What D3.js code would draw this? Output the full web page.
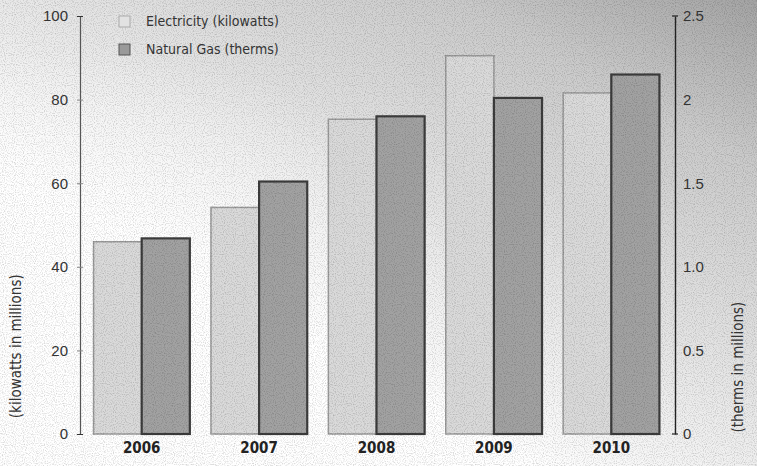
<!DOCTYPE html>
<html>
<head>
<meta charset="utf-8">
<script src="https://cdn.jsdelivr.net/npm/d3@7"></script>
<style>
  body { margin: 0; background: #fff; }
  svg { display: block; font-family: "Liberation Sans Narrow", "DejaVu Sans Condensed", "Roboto Condensed", sans-serif; }
</style>
</head>
<body>
<div id="chart"></div>
<script>
// data
const years = ['2006', '2007', '2008', '2009', '2010']
const electricity = [46, 54.2, 75.3, 90.5, 81.6]      // kilowatts in millions
const naturalGas = [1.17, 1.51, 1.90, 2.01, 2.15]     // therms in millions
const leftTicks = [0, 20, 40, 60, 80, 100]
const rightTicks = [0, 0.5, 1, 1.5, 2, 2.5]
const rightTickLabels = ['0', '0.5', '1.0', '1.5', '2', '2.5']
const seriesNames = ['Electricity (kilowatts)', 'Natural Gas (therms)']

const W = 757, H = 466
const margin = { top: 16, right: 83, bottom: 32, left: 80 }

const svg = d3.select('#chart')
  .append('svg')
  .attr('width', W)
  .attr('height', H)

const defs = svg.append('defs')

// textured grey background, darker toward the upper right
const bg = defs.append('linearGradient')
  .attr('id', 'bgGrad')
  .attr('x1', '0.1').attr('y1', '1')
  .attr('x2', '1').attr('y2', '0')
bg.append('stop').attr('offset', '0.3').attr('stop-color', '#ffffff')
bg.append('stop').attr('offset', '0.55').attr('stop-color', '#e4e4e4')
bg.append('stop').attr('offset', '0.8').attr('stop-color', '#cbcbcb')
bg.append('stop').attr('offset', '1').attr('stop-color', '#a4a4a4')

const grain = defs.append('filter').attr('id', 'grain')
grain.append('feTurbulence')
  .attr('type', 'fractalNoise')
  .attr('baseFrequency', 0.9)
  .attr('numOctaves', 1)
  .attr('seed', 3)
grain.append('feColorMatrix')
  .attr('type', 'matrix')
  .attr('values', '0 0 0 0 0  0 0 0 0 0  0 0 0 0 0  0 0 0 -2.2 1.2')
grain.append('feComposite').attr('in2', 'SourceGraphic').attr('operator', 'in')

svg.append('rect')
  .attr('width', W).attr('height', H)
  .attr('fill', 'url(#bgGrad)')

// lower-left fade so the white area stays clean
const fade = defs.append('radialGradient')
  .attr('id', 'fadeGrad')
  .attr('cx', '0.1').attr('cy', '0.6').attr('r', '0.5')
fade.append('stop').attr('offset', '0').attr('stop-color', '#fff').attr('stop-opacity', 1)
fade.append('stop').attr('offset', '1').attr('stop-color', '#fff').attr('stop-opacity', 0)
svg.append('rect')
  .attr('width', W).attr('height', H)
  .attr('fill', 'url(#fadeGrad)')

const barFill = {
  elec: { fill: '#dadada', stroke: '#9a9a9a', sw: 1.5 },
  gas: { fill: '#a2a2a2', stroke: '#3c3c3c', sw: 2.2 }
}

const x = d3.scaleBand()
  .domain(years)
  .range([margin.left + 3, W - margin.right - 4])
  .paddingInner(0.18)
  .paddingOuter(0.09)

const xs = d3.scaleBand()
  .domain(['elec', 'gas'])
  .range([0, x.bandwidth()])

const yL = d3.scaleLinear().domain([0, 100]).range([H - margin.bottom, margin.top])
const yR = d3.scaleLinear().domain([0, 2.5]).range([H - margin.bottom, margin.top])

const rows = years.map((yr, i) => ({ year: yr, elec: electricity[i], gas: naturalGas[i] }))

const groups = svg.append('g')
  .selectAll('g')
  .data(rows)
  .join('g')
  .attr('transform', d => `translate(${x(d.year)},0)`)

groups.append('rect')
  .attr('x', xs('elec'))
  .attr('y', d => yL(d.elec))
  .attr('width', xs.bandwidth())
  .attr('height', d => yL(0) - yL(d.elec))
  .attr('fill', barFill.elec.fill)
  .attr('stroke', barFill.elec.stroke)
  .attr('stroke-width', barFill.elec.sw)

groups.append('rect')
  .attr('x', xs('gas'))
  .attr('y', d => yR(d.gas))
  .attr('width', xs.bandwidth())
  .attr('height', d => yR(0) - yR(d.gas))
  .attr('fill', barFill.gas.fill)
  .attr('stroke', barFill.gas.stroke)
  .attr('stroke-width', barFill.gas.sw)

// grain over everything drawn so far
svg.append('rect')
  .attr('width', W).attr('height', H)
  .attr('fill', '#666')
  .attr('opacity', 0.22)
  .attr('filter', 'url(#grain)')

// left axis
const leftAxis = svg.append('g')
  .attr('transform', `translate(${margin.left},0)`)
  .call(d3.axisLeft(yL).tickValues(leftTicks).tickSize(3).tickSizeOuter(0).tickPadding(9))
leftAxis.select('.domain').attr('stroke', '#555').attr('stroke-width', 1.2)
leftAxis.selectAll('.tick line').attr('stroke', '#888').attr('x2', 3).attr('x1', -3)
leftAxis.selectAll('.tick text')
  .attr('font-size', 15)
  .attr('fill', '#333')
  .attr('font-family', 'inherit')

// right axis
const rightAxis = svg.append('g')
  .attr('transform', `translate(${W - margin.right + 1},0)`)
  .call(d3.axisRight(yR).tickValues(rightTicks)
    .tickFormat((d, i) => rightTickLabels[i])
    .tickSize(0).tickSizeOuter(0).tickPadding(8))
rightAxis.select('.domain').attr('stroke', '#222').attr('stroke-width', 1.4)
rightAxis.selectAll('.tick text')
  .attr('font-size', 15)
  .attr('fill', '#333')
  .attr('font-family', 'inherit')
// end caps on the right axis
rightAxis.selectAll('.cap')
  .data(yR.domain())
  .join('line')
  .attr('class', 'cap')
  .attr('x1', -3).attr('x2', 3)
  .attr('y1', d => yR(d)).attr('y2', d => yR(d))
  .attr('stroke', '#222')
  .attr('stroke-width', 1.2)
leftAxis.selectAll('.tick')
  .filter(d => d === 0 || d === 100)
  .select('line')
  .attr('stroke', '#333')

// year labels
svg.append('g')
  .selectAll('text')
  .data(years)
  .join('text')
  .attr('x', d => x(d) + x.bandwidth() / 2)
  .attr('y', H - 13)
  .attr('text-anchor', 'middle')
  .attr('font-size', 15)
  .attr('font-weight', 'bold')
  .attr('fill', '#222')
  .text(d => d)

// axis titles
svg.append('text')
  .attr('transform', `translate(21,${yL(21)}) rotate(-90)`)
  .attr('text-anchor', 'middle')
  .attr('font-size', 15)
  .attr('fill', '#333')
  .text('(kilowatts in millions)')

svg.append('text')
  .attr('transform', `translate(${W - 14},${yR(0.4)}) rotate(-90)`)
  .attr('text-anchor', 'middle')
  .attr('font-size', 15)
  .attr('fill', '#333')
  .text('(therms in millions)')

// legend
const legend = svg.append('g')
  .attr('transform', 'translate(119,16)')
  .selectAll('g')
  .data(seriesNames)
  .join('g')
  .attr('transform', (d, i) => `translate(0,${i * 28})`)

legend.append('rect')
  .attr('width', 11).attr('height', 11)
  .attr('fill', (d, i) => i ? '#9a9a9a' : '#e2e2e2')
  .attr('stroke', (d, i) => i ? '#555' : '#aaa')

legend.append('text')
  .attr('x', 27)
  .attr('y', 10)
  .attr('font-size', 14)
  .attr('fill', '#333')
  .text(d => d)
</script>
</body>
</html>
